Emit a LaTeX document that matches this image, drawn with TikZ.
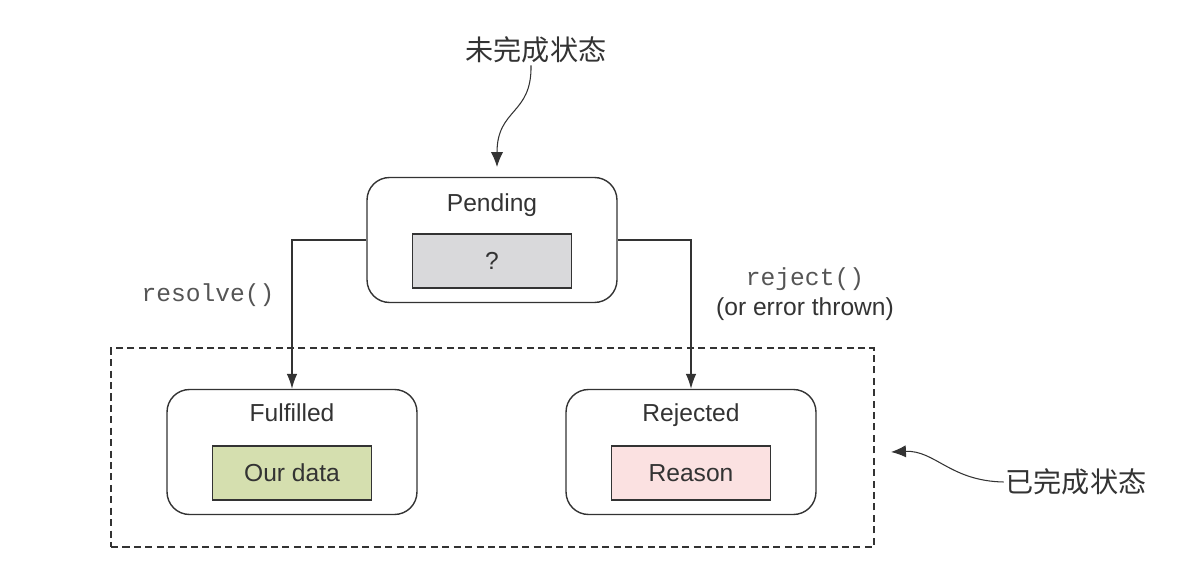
\documentclass[tikz,border=0pt]{standalone}
\usepackage{fontspec}
\setmainfont{Liberation Sans}
\setmonofont{Liberation Mono}
\newfontfamily\cjk{Noto Sans CJK SC}
\usepackage{xcolor}
\usetikzlibrary{arrows.meta, positioning}

\definecolor{ink}{HTML}{333333}
\definecolor{codegray}{HTML}{555555}
\definecolor{pendfill}{HTML}{D9D9DB}
\definecolor{okfill}{HTML}{D5DFAF}
\definecolor{badfill}{HTML}{FBE1E1}

\tikzset{
    state/.style={draw=ink, line width=0.8pt, rounded corners=0.45cm,
        minimum width=5cm, minimum height=2.5cm},
    slot/.style={draw=ink, line width=0.6pt, text=ink,
        minimum width=3.18cm, minimum height=1.08cm,
        font=\fontsize{14}{17}\selectfont},
    title/.style={text=ink, inner sep=1pt, text height=10pt, text depth=3pt,
        font=\fontsize{14}{17}\selectfont},
    cjklabel/.style={text=ink, inner sep=1pt, font=\cjk\fontsize{16}{19}\selectfont},
    flow/.style={draw=ink, line width=0.7pt, -{Latex[length=8.5pt, width=6pt]}},
    note/.style={draw=ink, line width=0.6pt, -{Latex[length=8.5pt, width=7pt]}}
}

\begin{document}
\begin{tikzpicture}[x=0.02cm, y=-0.02cm]

    \useasboundingbox (0,0) rectangle (1200,570);

    \node[draw=ink, dash pattern=on 4pt off 2.5pt, line width=0.7pt, minimum width=15.26cm, minimum height=3.98cm] (done) at (492.5,447.5) {};

    \node[state] (pend) at (492,240) {};
    \node[title] (pendtxt) at (492,205) {Pending};
    \node[slot, fill=pendfill] (pendval) at (492,261) {?};

    \node[state] (ful) at (292,452) {};
    \node[title] (fultxt) at (292,415) {Fulfilled};
    \node[slot, fill=okfill] (fulval) at (292,473) {Our data};

    \node[state] (rej) at (691,452) {};
    \node[title] (rejtxt) at (691,415) {Rejected};
    \node[slot, fill=badfill] (rejval) at (691,473) {Reason};

    \node[title, text=codegray, font=\ttfamily\fontsize{14}{17}\selectfont] (res) at (208,295) {resolve()};
    \node[text=ink, inner sep=1pt, align=center, font=\fontsize{14}{17}\selectfont] (rjt) at (805,294) {{\ttfamily\color{codegray}reject()}\\(or error thrown)};

    \node[cjklabel] (open) at (536,50) {未完成状态};
    \node[cjklabel] (closed) at (1076,482) {已完成状态};

    \coordinate (opentip) at (497,167);
    \coordinate (closedtip) at (891,452);

    \draw[flow] (pend.west) -| (ful.north);
    \draw[flow] (pend.east) -| (rej.north);

    \draw[note] ([xshift=-0.1cm]open.south) .. controls (532,115) and (497,108) .. (opentip);
    \draw[note] (closed.west) .. controls (950,481) and (935,450) .. (closedtip);

\end{tikzpicture}
\end{document}
